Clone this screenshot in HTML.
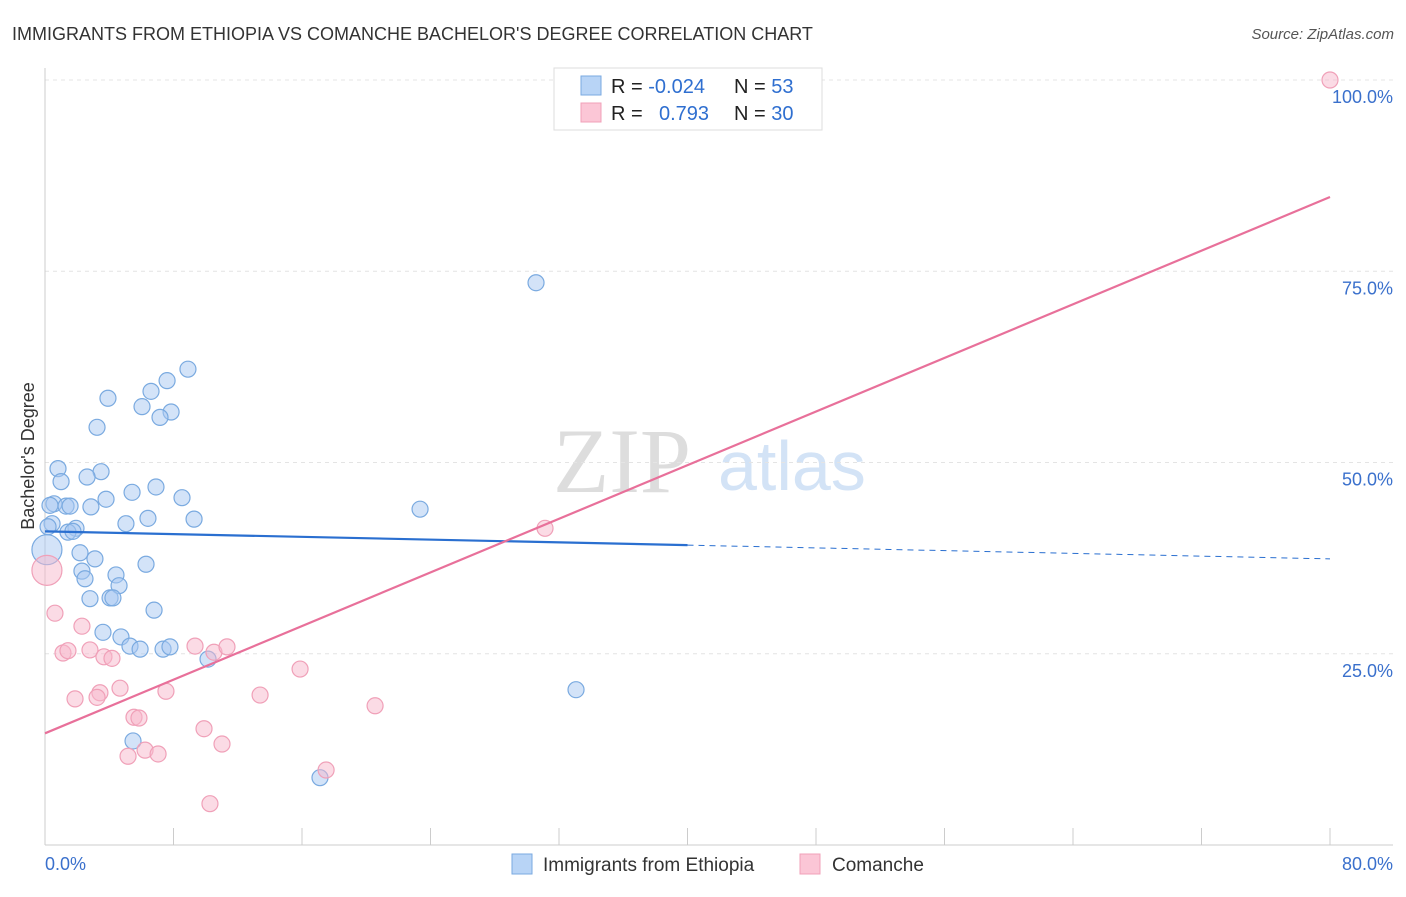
<!DOCTYPE html>
<html><head><meta charset="utf-8"><style>
body{margin:0;background:#fff;font-family:"Liberation Sans",sans-serif}
</style></head><body>
<svg id="chart" width="1406" height="892" xmlns="http://www.w3.org/2000/svg" style="font-family:'Liberation Sans',sans-serif">
<text x="12" y="40" font-size="18" fill="#333">IMMIGRANTS FROM ETHIOPIA VS COMANCHE BACHELOR'S DEGREE CORRELATION CHART</text>
<text x="1394" y="39" font-size="15" fill="#555" text-anchor="end" font-style="italic">Source: ZipAtlas.com</text>
<g>
<text x="553" y="492" font-size="92" fill="#ddd" font-family="Liberation Serif,serif">ZIP</text>
<text x="718" y="490" font-size="70" fill="#d3e3f6">atlas</text>
</g>
<g id="grid"></g>
<g id="axes"></g>
<g id="marks"></g>
<text transform="translate(34,456) rotate(-90)" font-size="18" fill="#333" text-anchor="middle">Bachelor's Degree</text>
<g>
<rect x="554" y="68" width="268" height="62" fill="#fff" stroke="#ddd"/>
<rect x="581" y="76" width="20" height="19" fill="#b8d4f6" stroke="#7aaae0"/>
<rect x="581" y="103" width="20" height="19" fill="#fbc6d6" stroke="#f0a0b8"/>
<text x="611" y="93" font-size="20" fill="#222">R = <tspan fill="#2f6fd0">-0.024</tspan></text>
<text x="734" y="93" font-size="20" fill="#222">N = <tspan fill="#2f6fd0"> 53</tspan></text>
<text x="611" y="120" font-size="20" fill="#222">R = <tspan fill="#2f6fd0" x="659">0.793</tspan></text>
<text x="734" y="120" font-size="20" fill="#222">N = <tspan fill="#2f6fd0">30</tspan></text>
</g>
<g>
<rect x="512" y="854" width="20" height="20" fill="#b8d4f6" stroke="#7aaae0"/>
<text x="543" y="871" font-size="19" fill="#333">Immigrants from Ethiopia</text>
<rect x="800" y="854" width="20" height="20" fill="#fbc6d6" stroke="#f0a0b8"/>
<text x="832" y="871" font-size="19" fill="#333">Comanche</text>
</g>
</svg>
<script>
const blueX=[30.57,8.90,7.60,6.60,3.92,6.04,7.85,7.16,3.24,0.81,3.49,2.62,1.00,6.91,5.42,8.53,3.80,0.56,1.31,1.56,2.86,6.41,9.28,5.04,1.93,1.43,0.44,23.35,2.18,3.11,6.29,2.30,4.42,2.49,4.61,2.80,4.05,4.23,6.79,3.61,4.73,5.29,5.92,7.35,7.78,10.15,33.06,5.48,17.12,0.12,0.19,0.31,1.74];
const blueY=[73.5,62.2,60.7,59.3,58.4,57.3,56.6,55.9,54.6,49.2,48.8,48.1,47.5,46.8,46.1,45.4,45.2,44.6,44.3,44.3,44.2,42.7,42.6,42.0,41.4,40.9,42.0,43.9,38.2,37.4,36.7,35.8,35.3,34.8,33.9,32.2,32.3,32.3,30.7,27.8,27.2,26.0,25.6,25.6,25.9,24.3,20.3,13.6,8.8,38.6,41.6,44.4,41.0];
const pinkX=[80.0,31.13,0.12,0.62,2.30,1.12,1.43,2.80,3.67,4.17,9.34,10.52,11.33,15.88,4.67,3.42,3.24,1.87,7.53,13.39,20.55,5.54,5.85,9.90,6.23,7.04,5.17,11.02,17.50,10.27];
const pinkY=[100,41.4,35.9,30.3,28.6,25.1,25.4,25.5,24.6,24.4,26.0,25.2,25.9,23.0,20.5,19.9,19.3,19.1,20.1,19.6,18.2,16.7,16.6,15.2,12.4,11.9,11.6,13.2,9.8,5.4];
const blueTrend=[41.0,37.4];
const pinkTrend=[14.6,84.7];
const yTicks=[25,50,75,100];
const yTickLabels=["25.0%","50.0%","75.0%","100.0%"];
const NS="http://www.w3.org/2000/svg";
const X=v=>45+v*16.0625, Y=v=>845-v*7.65;
function mk(tag,attrs,parent){const e=document.createElementNS(NS,tag);for(const k in attrs)e.setAttribute(k,attrs[k]);document.getElementById(parent).appendChild(e);return e;}
yTicks.forEach((t,i)=>{
 const g=mk('line',{x1:45,x2:1393,y1:Y(t),y2:Y(t),stroke:'#e4e4e4','stroke-dasharray':'4,4'},'grid');
 
 
 const l=mk('text',{x:1393,y:Y(t)+23,'font-size':18,fill:'#3a70cc','text-anchor':'end'},'axes');
 l.textContent=yTickLabels[i];
 
 
});
let a=mk('line',{x1:45,x2:45,y1:68,y2:845,stroke:'#ccc'},'axes');


a=mk('line',{x1:45,x2:1393,y1:845,y2:845,stroke:'#ccc'},'axes');


for(let i=0;i<=10;i++){const t=mk('line',{x1:X(i*8),x2:X(i*8),y1:828,y2:845,stroke:'#ccc'},'axes');
 
 }
let xl=mk('text',{x:45,y:870,'font-size':18,fill:'#3a70cc'},'axes');xl.textContent='0.0%';


xl=mk('text',{x:1393,y:870,'font-size':18,fill:'#3a70cc','text-anchor':'end'},'axes');xl.textContent='80.0%';


function pts(xs,ys,fill,stroke,name,bigIdx){xs.forEach((x,i)=>{
 const c=mk('circle',{cx:X(x),cy:Y(ys[i]),r:bigIdx.includes(i)?15:8,fill:fill,stroke:stroke,'stroke-width':1.2},'marks');
 
 });}
pts(blueX,blueY,'rgba(168,200,242,0.5)','#7aaae0','ethiopia-point',[49]);
pts(pinkX,pinkY,'rgba(248,184,204,0.5)','#f0a0b8','comanche-point',[2]);
const bx=v=>blueTrend[0]+(blueTrend[1]-blueTrend[0])*v/80;
let ln=mk('line',{x1:X(0),y1:Y(bx(0)),x2:X(40),y2:Y(bx(40)),stroke:'#2a6fd0','stroke-width':2.2},'marks');


ln=mk('line',{x1:X(40),y1:Y(bx(40)),x2:X(80),y2:Y(bx(80)),stroke:'#2a6fd0','stroke-width':1,'stroke-dasharray':'6,5'},'marks');


ln=mk('line',{x1:X(0),y1:Y(pinkTrend[0]),x2:X(80),y2:Y(pinkTrend[1]),stroke:'#e8709a','stroke-width':2.2},'marks');


</script>
</body></html>
